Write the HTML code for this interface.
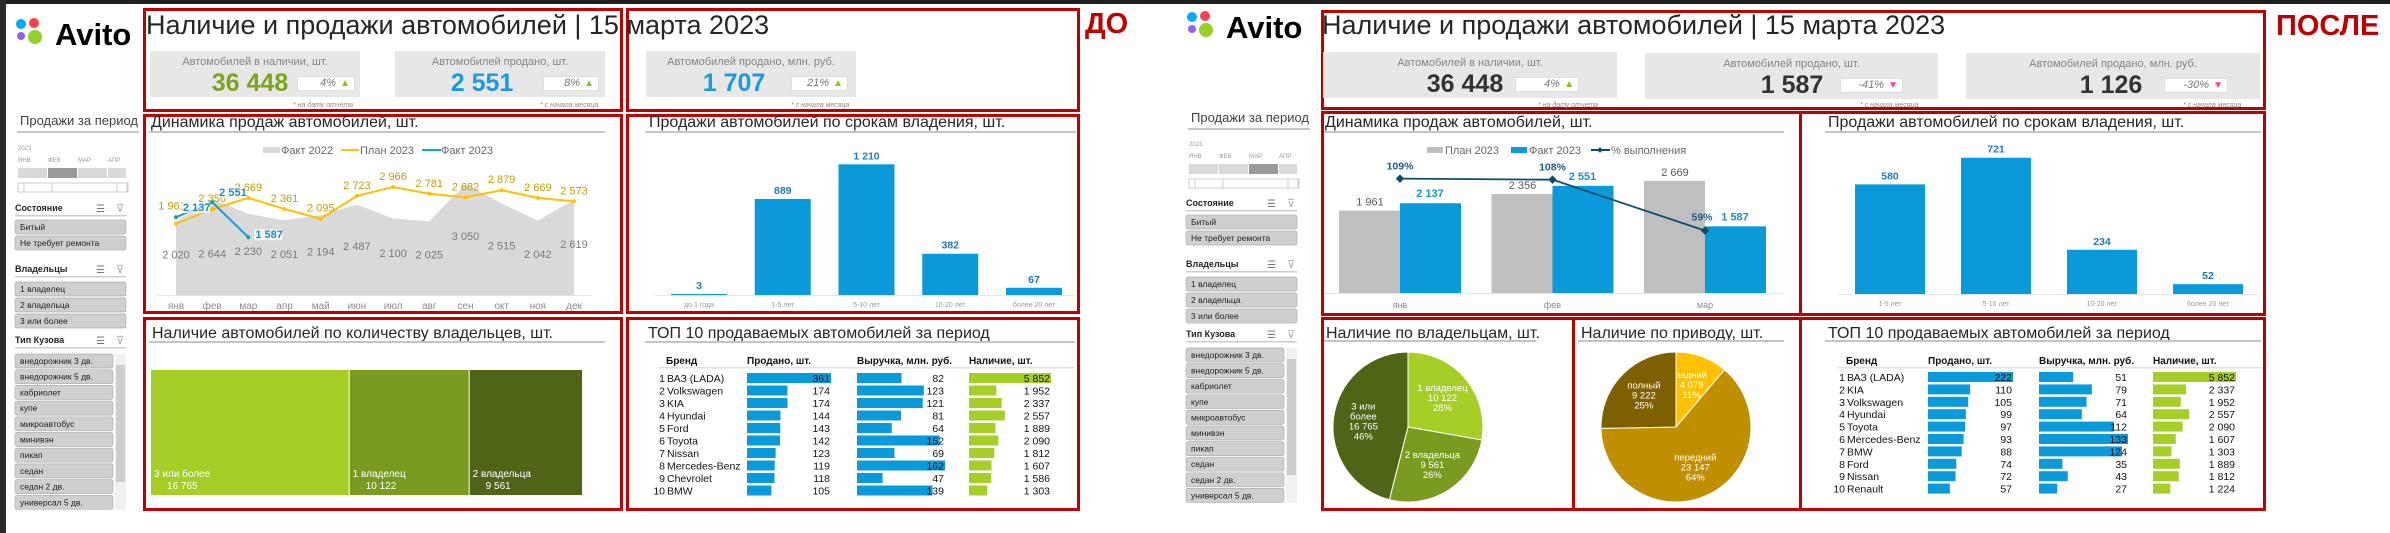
<!DOCTYPE html>
<html><head><meta charset="utf-8">
<style>
*{box-sizing:border-box}
body{margin:0;width:2390px;height:533px;overflow:hidden;background:#fff;font-family:"Liberation Sans","Noto Sans CJK SC",sans-serif;position:relative}
.abs{position:absolute}
.box{position:absolute;border:3px solid #c00000}
.title{position:absolute;font-size:27px;line-height:30px;color:#262626;white-space:nowrap}
.card{position:absolute;background:#e7e7e7}
.card .lbl{position:absolute;left:0;right:0;top:5px;text-align:center;font-size:11px;color:#858585}
.card .val{position:absolute;top:18px;font-size:25px;font-weight:bold;white-space:nowrap;transform:translateX(-50%)}
.card .pct{position:absolute;top:25px;height:15px;background:#fff;border:1px solid #ddd;font-size:11px;font-style:italic;color:#777;text-align:right;padding-right:18px;line-height:13px}
.card .pct span{position:absolute;right:4px;top:0;font-style:normal;font-size:10px}
.up{color:#8cc21f}.dn{color:#ff3fa0}
.foot{position:absolute;font-size:7px;font-style:italic;color:#8a8a8a;white-space:nowrap}
.ct{position:absolute;font-size:16px;color:#262626;white-space:nowrap}
.ul{position:absolute;height:2px;background:#c4c4c4}
.tag{position:absolute;font-size:29px;font-weight:bold;color:#c00000}
</style></head><body>
<div class="abs" style="left:0;top:0;width:2390px;height:4px;background:#1f1f1f"></div>
<div class="abs" style="left:0;top:0;width:6px;height:533px;background:#2a2a2a"></div>

<!-- LEFT dashboard -->
<div class="box" style="left:143px;top:8px;width:480px;height:104px"></div>
<div class="box" style="left:626px;top:8px;width:454px;height:104px"></div>
<div class="box" style="left:143px;top:114px;width:480px;height:200px"></div>
<div class="box" style="left:626px;top:114px;width:454px;height:200px"></div>
<div class="box" style="left:143px;top:317px;width:480px;height:194px"></div>
<div class="box" style="left:626px;top:317px;width:454px;height:194px"></div>
<div class="title" style="left:146px;top:10px">Наличие и продажи автомобилей | 15 марта 2023</div>
<div class="tag" style="left:1085px;top:8px">ДО</div>

<div class="card" style="left:150px;top:51px;width:210px;height:46px">
 <div class="lbl">Автомобилей в наличии, шт.</div>
 <div class="val" style="left:100px;color:#7da51c">36 448</div>
 <div class="pct" style="left:147px;width:58px">4%<span class="up">▲</span></div></div>
<div class="foot" style="left:293px;top:102px">* на дату отчета</div>
<div class="card" style="left:395px;top:51px;width:210px;height:46px">
 <div class="lbl">Автомобилей продано, шт.</div>
 <div class="val" style="left:87px;color:#1a9bdb">2 551</div>
 <div class="pct" style="left:148px;width:56px">8%<span class="up">▲</span></div></div>
<div class="foot" style="left:540px;top:102px">* с начала месяца</div>
<div class="card" style="left:646px;top:51px;width:210px;height:46px">
 <div class="lbl">Автомобилей продано, млн. руб.</div>
 <div class="val" style="left:88px;color:#1a9bdb">1 707</div>
 <div class="pct" style="left:145px;width:57px">21%<span class="up">▲</span></div></div>
<div class="foot" style="left:791px;top:102px">* с начала месяца</div>

<div class="ct" style="left:151px;top:114px">Динамика продаж автомобилей, шт.</div>
<div class="ul" style="left:149px;top:131px;width:456px"></div>
<div class="ct" style="left:649px;top:114px">Продажи автомобилей по срокам владения, шт.</div>
<div class="ul" style="left:645px;top:131px;width:431px"></div>
<div class="ct" style="left:152px;top:325px">Наличие автомобилей по количеству владельцев, шт.</div>
<div class="ul" style="left:149px;top:341px;width:456px"></div>
<div class="ct" style="left:648px;top:325px">ТОП 10 продаваемых автомобилей за период</div>
<div class="ul" style="left:645px;top:341px;width:430px"></div>

<!-- RIGHT dashboard -->
<div class="box" style="left:1321px;top:10px;width:945px;height:100px"></div>
<div class="box" style="left:1321px;top:111px;width:481px;height:205px"></div>
<div class="box" style="left:1799px;top:111px;width:467px;height:205px"></div>
<div class="box" style="left:1321px;top:317px;width:254px;height:194px"></div>
<div class="box" style="left:1572px;top:317px;width:230px;height:194px"></div>
<div class="box" style="left:1799px;top:317px;width:467px;height:194px"></div>
<div class="title" style="left:1322px;top:10px">Наличие и продажи автомобилей | 15 марта 2023</div>
<div class="tag" style="left:2276px;top:10px">ПОСЛЕ</div>

<div class="card" style="left:1323px;top:52px;width:294px;height:46px">
 <div class="lbl">Автомобилей в наличии, шт.</div>
 <div class="val" style="left:142px;color:#333">36 448</div>
 <div class="pct" style="left:192px;width:64px">4%<span class="up">▲</span></div></div>
<div class="foot" style="left:1538px;top:102px">* на дату отчета</div>
<div class="card" style="left:1645px;top:53px;width:293px;height:46px">
 <div class="lbl">Автомобилей продано, шт.</div>
 <div class="val" style="left:147px;color:#333">1 587</div>
 <div class="pct" style="left:195px;width:63px">-41%<span class="dn">▼</span></div></div>
<div class="foot" style="left:1860px;top:102px">* с начала месяца</div>
<div class="card" style="left:1966px;top:53px;width:294px;height:46px">
 <div class="lbl">Автомобилей продано, млн. руб.</div>
 <div class="val" style="left:145px;color:#333">1 126</div>
 <div class="pct" style="left:198px;width:64px">-30%<span class="dn">▼</span></div></div>
<div class="foot" style="left:2183px;top:102px">* с начала месяца</div>

<div class="ct" style="left:1325px;top:114px">Динамика продаж автомобилей, шт.</div>
<div class="ul" style="left:1324px;top:131px;width:460px"></div>
<div class="ct" style="left:1828px;top:114px">Продажи автомобилей по срокам владения, шт.</div>
<div class="ul" style="left:1825px;top:131px;width:436px"></div>
<div class="ct" style="left:1326px;top:325px">Наличие по владельцам, шт.</div>
<div class="ul" style="left:1324px;top:340px;width:212px"></div>
<div class="ct" style="left:1581px;top:325px">Наличие по приводу, шт.</div>
<div class="ul" style="left:1578px;top:340px;width:206px"></div>
<div class="ct" style="left:1828px;top:325px">ТОП 10 продаваемых автомобилей за период</div>
<div class="ul" style="left:1825px;top:340px;width:436px"></div>

<svg id="cv" width="2390" height="533" style="position:absolute;left:0;top:0;font-family:'Liberation Sans',sans-serif" xmlns="http://www.w3.org/2000/svg"></svg>

<script>
// ---------- DATA ----------
const months12 = ['янв','фев','мар','апр','май','июн','июл','авг','сен','окт','ноя','дек'];
const fact2022 = [2020,2644,2230,2051,2194,2487,2100,2025,3050,2515,2042,2619];
const plan2023 = [1961,2356,2669,2361,2095,2723,2966,2781,2682,2879,2669,2573];
const fact2023 = [2137,2551,1587];
const termCatsL = ['до 1 года','1-5 лет','5-10 лет','10-20 лет','более 20 лет'];
const termValsL = [3,889,1210,382,67];
const termCatsR = ['1-5 лет','5-10 лет','10-20 лет','более 20 лет'];
const termValsR = [580,721,234,52];
const ownerCats = ['3 или более','1 владелец','2 владельца'];
const ownerVals = [16765,10122,9561];
const pieOwnerCats = ['1 владелец','2 владельца','3 или более'];
const pieOwnerVals = [10122,9561,16765];
const driveCats = ['задний','передний','полный'];
const driveVals = [4079,23147,9222];
const months3 = ['янв','фев','мар'];
const plan3 = [1961,2356,2669];
const fact3 = [2137,2551,1587];
const pctDone = [109,108,59];
const brandsL = ['ВАЗ (LADA)','Volkswagen','KIA','Hyundai','Ford','Toyota','Nissan','Mercedes-Benz','Chevrolet','BMW'];
const soldL = [361,174,174,144,143,142,123,119,118,105];
const revL = [82,123,121,81,64,152,69,162,47,139];
const stockL = [5852,1952,2337,2557,1889,2090,1812,1607,1586,1303];
const brandsR = ['ВАЗ (LADA)','KIA','Volkswagen','Hyundai','Toyota','Mercedes-Benz','BMW','Ford','Nissan','Renault'];
const soldR = [222,110,105,99,97,93,88,74,72,57];
const revR = [51,79,71,64,112,133,124,35,43,27];
const stockR = [5852,2337,1952,2557,2090,1607,1303,1889,1812,1224];
const bodyTypes = ['внедорожник 3 дв.','внедорожник 5 дв.','кабриолет','купе','микроавтобус','минивэн','пикап','седан','седан 2 дв.','универсал 5 дв.'];

const NS='http://www.w3.org/2000/svg';
const svg=document.getElementById('cv');
function S(tag,a,p){const e=document.createElementNS(NS,tag);for(const k in a)e.setAttribute(k,a[k]);(p||svg).appendChild(e);return e;}
function T(x,y,t,a,p){const e=S('text',Object.assign({x:x,y:y},a),p);e.textContent=t;return e;}
function fmt(v){return String(v).replace(/\B(?=(\d{3})+(?!\d))/g,' ');}
let e;

// ---------- SIDEBARS ----------
function sidebar(x0,cfg,sel){
  const g=S('g',{});
  e=S('circle',{cx:x0+6,cy:cfg.logo+6,r:5,fill:'#00aaff'},g);
  
  
  S('circle',{cx:x0+19,cy:cfg.logo+5,r:5,fill:'#ff4053'},g);
  S('circle',{cx:x0+6,cy:cfg.logo+18,r:4,fill:'#965eeb'},g);
  S('circle',{cx:x0+20,cy:cfg.logo+19,r:7,fill:'#97cf26'},g);
  e=T(x0+40,cfg.logo+27,'Avito',{'font-size':31,'font-weight':'bold',fill:'#000'},g);
  
  
  e=T(x0+5,cfg.title,'Продажи за период',{'font-size':13,fill:'#404040'},g);
  
  
  S('rect',{x:x0+2,y:cfg.title+6,width:122,height:2,fill:'#c8c8c8'},g);
  T(x0+3,cfg.tl,'2023',{'font-size':6,fill:'#999'},g);
  ['ЯНВ','ФЕВ','МАР','АПР'].forEach((m,i)=>{T(x0+3+i*30,cfg.tl+12,m,{'font-size':6,fill:'#999'},g);});
  for(let i=0;i<4;i++){
    e=S('rect',{x:x0+3+i*30,y:cfg.tl+18,width:i==3?18:29,height:10,fill:i==sel?'#9a9a9a':'#d9d9d9'},g);
    
    
  }
  S('rect',{x:x0+3,y:cfg.tl+33,width:110,height:9,fill:'#fff',stroke:'#ccc'},g);
  S('rect',{x:x0+9,y:cfg.tl+33,width:28,height:9,fill:'#fff',stroke:'#ccc'},g);
  S('rect',{x:x0+102,y:cfg.tl+33,width:10,height:9,fill:'#fff',stroke:'#ccc'},g);
  function header(y,txt){
    e=T(x0,y,txt,{'font-size':9,'font-weight':'bold',fill:'#222'},g);
    
    
    T(x0+81,y+1,'☰',{'font-size':10,fill:'#777'},g);
    T(x0+101,y+1,'⊽',{'font-size':11,fill:'#aaa'},g);
    S('rect',{x:x0,y:y+4,width:111,height:1.5,fill:'#ccc'},g);
  }
  function btn(y,txt,w){
    e=S('rect',{x:x0,y:y,width:w,height:14,rx:2,fill:'#cfcfcf',stroke:'#b0b0b0','stroke-width':0.7},g);
    
    
    T(x0+5,y+10,txt,{'font-size':8.5,fill:'#222'},g);
  }
  header(cfg.st,'Состояние');
  btn(cfg.st+9,'Битый',111);btn(cfg.st+25,'Не требует ремонта',111);
  header(cfg.ow,'Владельцы');
  btn(cfg.ow+10,'1 владелец',111);btn(cfg.ow+26,'2 владельца',111);btn(cfg.ow+42,'3 или более',111);
  header(cfg.bt,'Тип Кузова');
  bodyTypes.forEach((b,i)=>btn(cfg.bt+11+i*cfg.step,b,98));
  e=S('rect',{x:x0+100,y:cfg.bt+11,width:11,height:cfg.step*10-1,fill:'#f0f0f0'},g);
  
  
  S('rect',{x:x0+101,y:cfg.bt+22,width:9,height:cfg.step*10-40,fill:'#cdcdcd'},g);
}
sidebar(15,{logo:18,title:125,tl:150,st:211,ow:272,bt:343,step:15.7},1);
sidebar(1186,{logo:11,title:122,tl:146,st:206,ow:267,bt:337,step:15.6},2);

// ---------- LEFT LINE CHART ----------
const xL=i=>176+i*(574-176)/11;
const yL=v=>295-v*0.0364;
let pts=fact2022.map((v,i)=>xL(i)+','+yL(v)).join(' ');
e=S('polygon',{points:xL(0)+',295 '+pts+' '+xL(11)+',295',fill:'#d9d9d9'});


S('line',{x1:158,x2:592,y1:295.5,y2:295.5,stroke:'#e3e3e3'});
fact2022.forEach((v,i)=>{
  e=T(xL(i),295-v*0.018+(i==1?10:0),fmt(v),{'font-size':11,fill:'#7a7a7a','text-anchor':'middle'});
  
  
});
e=S('polyline',{points:plan2023.map((v,i)=>xL(i)+','+yL(v)).join(' '),fill:'none',stroke:'#ffc000','stroke-width':2});


plan2023.forEach((v,i)=>{
  S('circle',{cx:xL(i),cy:yL(v),r:2,fill:'#ffc000'});
  e=T(xL(i)+(i==0?-4:0),yL(v)-(i==0?14:7),fmt(v),{'font-size':11,fill:'#c49a06','text-anchor':'middle'});
  
  
});
e=S('polyline',{points:fact2023.map((v,i)=>xL(i)+','+yL(v)).join(' '),fill:'none',stroke:'#1a9bd8','stroke-width':2});


fact2023.forEach((v,i)=>{
  S('circle',{cx:xL(i),cy:yL(v),r:2,fill:'#19a38a'});
  S('rect',{x:xL(i)+6,y:yL(v)-(i==2?-1:6)-9,width:28,height:11,fill:'#fff',opacity:0.7});
  e=T(xL(i)+7,yL(v)-(i==2?-1:6),fmt(v),{'font-size':11,'font-weight':'bold',fill:'#1a8fcc'});
  
  
});
months12.forEach((m,i)=>{e=T(xL(i),309,m,{'font-size':10,fill:'#8a8a8a','text-anchor':'middle'});
  
  });
S('rect',{x:263,y:147,width:17,height:6,fill:'#d9d9d9'});
T(281,154,'Факт 2022',{'font-size':11,fill:'#666'});
S('line',{x1:341,x2:359,y1:150,y2:150,stroke:'#ffc000','stroke-width':2});
T(360,154,'План 2023',{'font-size':11,fill:'#666'});
S('line',{x1:422,x2:441,y1:150,y2:150,stroke:'#1a9bd8','stroke-width':2});
e=T(441,154,'Факт 2023',{'font-size':11,fill:'#666'});



// ---------- BAR CHARTS (ownership term) ----------
function termChart(cats,vals,x0,step,w,base,k,ax1,ax2,nm){
  S('line',{x1:ax1,x2:ax2,y1:base+0.5,y2:base+0.5,stroke:'#e6e6e6'});
  vals.forEach((v,i)=>{
    const cx=x0+i*step,h=Math.max(v*k,1);
    e=S('rect',{x:cx-w/2,y:base-h,width:w,height:h,fill:'#0b9ad9'});
    
    
    e=T(cx,base-h-5,fmt(v),{'font-size':10.5,'font-weight':'bold',fill:'#1f78b4','text-anchor':'middle'});
    
    
    e=T(cx,base+12,cats[i],{'font-size':7,fill:'#999','text-anchor':'middle'});
    
    
  });
}
termChart(termCatsL,termValsL,699,83.75,56,295,0.108,655,1075,'before-term');
termChart(termCatsR,termValsR,1890,106,70,294,0.189,1837,2260,'after-term');

// ---------- TREEMAP ----------
const tmCols=['#a6ce27','#7a9b1f','#506418'];
const tmTot=ownerVals.reduce((a,b)=>a+b,0);
let tx=151;
ownerVals.forEach((v,i)=>{
  const w=v/tmTot*432;
  e=S('rect',{x:tx,y:370,width:w-1,height:125,fill:tmCols[i]});
  
  
  T(tx+3,477,ownerCats[i],{'font-size':10,fill:'#fff'});
  T(tx+16,489,fmt(v),{'font-size':10,fill:'#fff'});
  tx+=w;
});

// ---------- RIGHT COMBO CHART ----------
const xc=i=>1400+i*152.5;
const yB=v=>293-v*0.042;
const yP=v=>292-v*1.04;
S('line',{x1:1324,x2:1782,y1:293.5,y2:293.5,stroke:'#e3e3e3'});
plan3.forEach((v,i)=>{
  e=S('rect',{x:xc(i)-61,y:yB(v),width:61,height:293-yB(v),fill:'#bfbfbf'});
  
  
  T(xc(i)-30,yB(v)-5,fmt(v),{'font-size':11,fill:'#595959','text-anchor':'middle'});
  e=S('rect',{x:xc(i),y:yB(fact3[i]),width:61,height:293-yB(fact3[i]),fill:'#0b9ad9'});
  
  
  T(xc(i)+30,yB(fact3[i])-6,fmt(fact3[i]),{'font-size':11,'font-weight':'bold',fill:'#1a8fcc','text-anchor':'middle'});
  T(xc(i),308,months3[i],{'font-size':9,fill:'#8a8a8a','text-anchor':'middle'});
});
e=S('polyline',{points:pctDone.map((v,i)=>xc(i)+','+yP(v)).join(' '),fill:'none',stroke:'#0e4d6e','stroke-width':1.8});


pctDone.forEach((v,i)=>{
  S('rect',{x:xc(i)-3,y:yP(v)-3,width:6,height:6,fill:'#0e4d6e',transform:'rotate(45 '+xc(i)+' '+yP(v)+')'});
  e=T(i==2?xc(i)-3:xc(i),i==2?yP(v)-10:yP(v)-9,v+'%',{'font-size':10.5,'font-weight':'bold',fill:'#1f5a85','text-anchor':'middle'});
  
  
});
S('rect',{x:1427,y:147,width:16,height:6,fill:'#bfbfbf'});
T(1445,154,'План 2023',{'font-size':11,fill:'#666'});
S('rect',{x:1511,y:147,width:16,height:6,fill:'#0b9ad9'});
T(1529,154,'Факт 2023',{'font-size':11,fill:'#666'});
S('line',{x1:1591,x2:1610,y1:150,y2:150,stroke:'#0e4d6e','stroke-width':2});
S('rect',{x:1598,y:148,width:4,height:4,fill:'#0e4d6e',transform:'rotate(45 1600 150)'});
T(1611,154,'% выполнения',{'font-size':11,fill:'#666'});

// ---------- PIES ----------
function pie(cx,cy,r,vals,cats,cols,nm){
  const tot=vals.reduce((a,b)=>a+b,0);let a0=0;
  vals.forEach((v,i)=>{
    const a1=a0+v/tot*2*Math.PI;
    const p=(a)=>[cx+r*Math.sin(a),cy-r*Math.cos(a)];
    const [x1,y1]=p(a0),[x2,y2]=p(a1);
    e=S('path',{d:`M${cx},${cy} L${x1},${y1} A${r},${r} 0 ${a1-a0>Math.PI?1:0} 1 ${x2},${y2} Z`,fill:cols[i],stroke:'#fff','stroke-width':1});
    
    
    const am=(a0+a1)/2,lx=cx+0.6*r*Math.sin(am),ly=cy-0.6*r*Math.cos(am);
    const lines=cats[i]=='3 или более'?['3 или','более']:[cats[i]];
    lines.push(fmt(v));lines.push(Math.round(v/tot*100)+'%');
    lines.forEach((l,j)=>{
      e=T(lx,ly-(lines.length-1)*5+j*10+3,l,{'font-size':9.5,fill:'#fff','text-anchor':'middle'});
      
      
    });
    a0=a1;
  });
}
pie(1408,427,75,pieOwnerVals,pieOwnerCats,['#a6ce27','#7a9b1f','#4e6518'],'owners-pie');
pie(1676,427,75,driveVals,driveCats,['#ffc000','#bf8f00','#7f6000'],'drive-pie');

// ---------- TOP 10 TABLES ----------
function top10(o,brands,sold,rev,stock,nm){
  [['Бренд',o.b],['Продано, шт.',o.s],['Выручка, млн. руб.',o.r],['Наличие, шт.',o.n]].forEach(h=>{
    e=T(h[1],364,h[0],{'font-size':10,'font-weight':'bold',fill:'#111'});
    
    
  });
  S('rect',{x:o.b-8,y:367,width:o.end-o.b+8,height:1.5,fill:'#e0e0e0'});
  const ms=Math.max(...sold),mr=Math.max(...rev),mn=Math.max(...stock);
  brands.forEach((b,i)=>{
    const y=o.y0+i*o.dy;
    T(o.b-1,y+4,(i+1)+'',{'font-size':10.5,fill:'#111','text-anchor':'end'});
    e=T(o.b+1,y+4,b,{'font-size':10.5,fill:'#111'});
    
    
    e=S('rect',{x:o.s,y:y-5,width:sold[i]/ms*o.ws,height:10,fill:'#0b9ad9'});
    
    
    T(o.s+o.ws-1,y+4,fmt(sold[i]),{'font-size':10.5,fill:'#111','text-anchor':'end'});
    e=S('rect',{x:o.r,y:y-5,width:rev[i]/mr*o.wr,height:10,fill:'#0b9ad9'});
    
    
    T(o.r+o.wr-1,y+4,fmt(rev[i]),{'font-size':10.5,fill:'#111','text-anchor':'end'});
    e=S('rect',{x:o.n,y:y-5,width:stock[i]/mn*o.wn,height:10,fill:'#a6ce27'});
    
    
    T(o.n+o.wn-1,y+4,fmt(stock[i]),{'font-size':10.5,fill:'#111','text-anchor':'end'});
  });
}
top10({b:666,s:747,r:857,n:969,end:1075,y0:378,dy:12.5,ws:84,wr:88,wn:82},brandsL,soldL,revL,stockL,'before-top10');
top10({b:1846,s:1928,r:2039,n:2153,end:2262,y0:377,dy:12.4,ws:85,wr:89,wn:83},brandsR,soldR,revR,stockR,'after-top10');
</script>
</body></html>
